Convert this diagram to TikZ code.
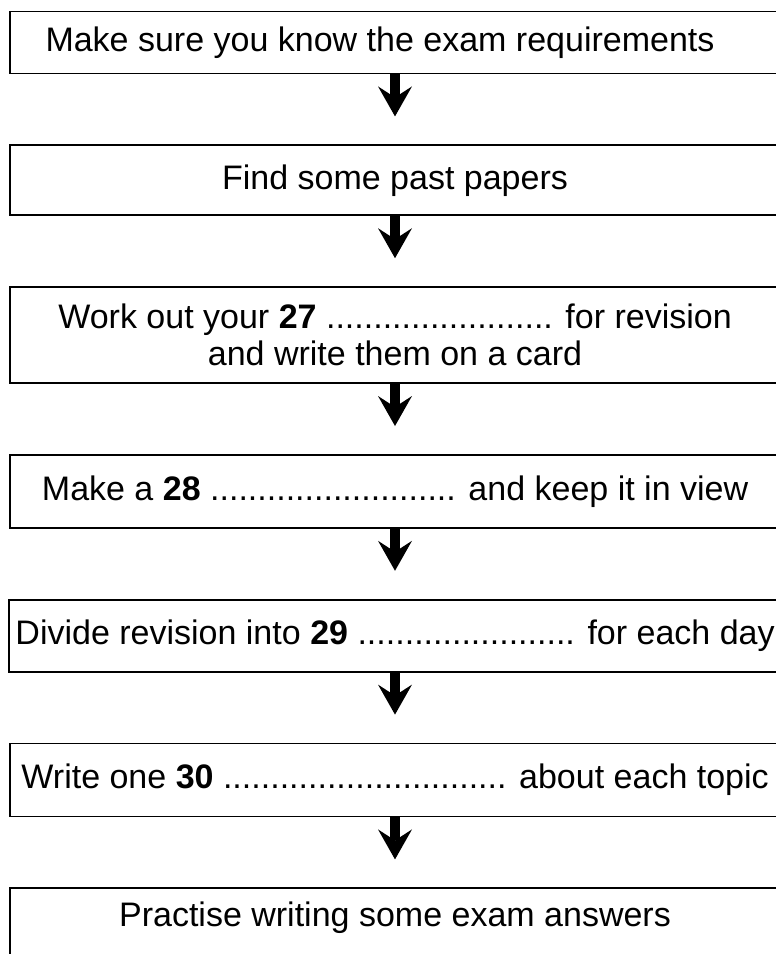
\documentclass[tikz,border=0pt]{standalone}
\usepackage{fontspec}
\setmainfont{Liberation Sans}
\usetikzlibrary{arrows.meta,positioning}

\begin{document}
\begin{tikzpicture}[x=0.5pt, y=-0.5pt, node distance=35pt,
  stepbox/.style={draw, line width=0.9pt, minimum width=385pt, align=center,
    font=\fontsize{17}{18.5}\selectfont},
  flowarrow/.style={line width=5pt,
    -{Stealth[length=15pt, width=17pt, inset=5.5pt, line width=0pt]}, shorten >=14pt}]
\clip (0,0) rectangle (776,954);
% nodes
\node[stepbox, minimum height=31pt] (s1) at (395,42.5) {Make sure you know the exam requirements\hspace*{15pt}};
\node[stepbox, minimum height=35pt, below=of s1] (s2) {Find some past papers};
\node[stepbox, minimum height=48pt, below=of s2] (s3) {Work out your \textbf{27} ........................ for revision\\and write them on a card};
\node[stepbox, minimum height=36.5pt, below=of s3] (s4) {Make a \textbf{28} .......................... and keep it in view};
\node[stepbox, minimum height=36pt, below=of s4] (s5) {Divide revision into \textbf{29} ....................... for each day};
\node[stepbox, minimum height=36.5pt, below=of s5] (s6) {Write one \textbf{30} .............................. about each topic};
\node[stepbox, inner ysep=0pt, text height=19pt, text depth=40pt, below=of s6] (s7) {Practise writing some exam answers};
% edges
\draw[flowarrow] (s1) -- (s2);
\draw[flowarrow] (s2) -- (s3);
\draw[flowarrow] (s3) -- (s4);
\draw[flowarrow] (s4) -- (s5);
\draw[flowarrow] (s5) -- (s6);
\draw[flowarrow] (s6) -- (s7);
\end{tikzpicture}
\end{document}
